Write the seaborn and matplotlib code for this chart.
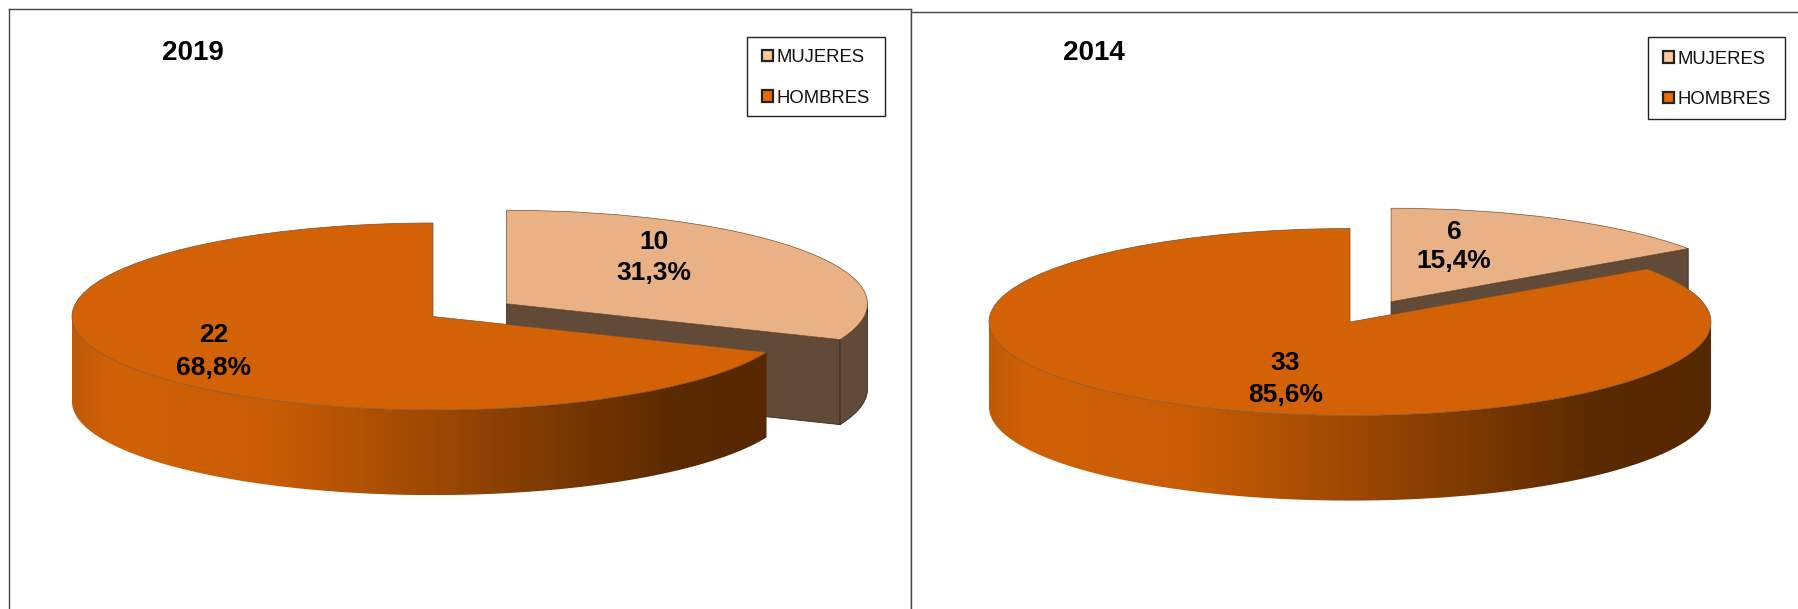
import numpy as np
import matplotlib
matplotlib.use("Agg")
import matplotlib.pyplot as plt
import seaborn as sns
from matplotlib.colors import LinearSegmentedColormap
from matplotlib.patches import Polygon, Rectangle

categories = ["MUJERES", "HOMBRES"]

titles = ["2019", "2014"]
counts_2019 = [10, 22]
counts_2014 = [6, 33]
# percentages as printed on the chart (2014 does not add up, it is like that in the original)
pct_labels_2019 = ["31,3%", "68,8%"]
pct_labels_2014 = ["15,4%", "85,6%"]

W, H = 1798, 609

sns.set_theme(style="white")
plt.rcParams["font.family"] = ["Liberation Sans", "DejaVu Sans"]

top_colors = sns.color_palette(["#E8B186", "#D26205"])
legend_colors = sns.color_palette(["#FFC899", "#E86C00"])
wall_color = "#614A38"
grad = LinearSegmentedColormap.from_list(
    "wall",
    [(0, "#BF5A08"), (0.05, "#D06106"), (0.28, "#C85C05"), (0.84, "#5A2A00"), (1, "#562800")],
)

RX, RY, DEPTH = 361.0, 93.5, 0.91


def px_text(fig, x, y, s, **kw):
    fig.text(x / W, 1 - y / H, s, ha="center", va="center", color="black", **kw)


def wall_poly(cx, cy, a, b):
    t = np.radians(np.linspace(a, b, 200))
    x = cx + np.cos(t)
    y = cy + np.sin(t)
    return np.r_[np.c_[x, y], np.c_[x[::-1], y[::-1] - DEPTH]]


def draw_panel(fig, box, center, counts, pct_labels, title, title_x, label_pos, legend_box, legend_y, spines):
    left, top, right = box
    ax = fig.add_axes([left / W, 0, (right - left) / W, (H - top) / H])

    wedges, _ = ax.pie(
        counts,
        explode=[0.245, 0],
        startangle=90,
        counterclock=False,
        colors=top_colors,
        wedgeprops=dict(linewidth=0.5, edgecolor="#7A5230"),
    )
    muj, hom = wedges
    muj.set_zorder(3)
    hom.set_zorder(6)

    # mujeres: radial cut face and the bit of rim at the front
    cx, cy = muj.center
    tip = muj.theta1
    tx, ty = cx + np.cos(np.radians(tip)), cy + np.sin(np.radians(tip))
    face = [(cx, cy), (tx, ty), (tx, ty - DEPTH), (cx, cy - DEPTH)]
    ax.add_patch(Polygon(face, closed=True, fc=wall_color, ec="#3A2A1C", lw=0.6, zorder=1))
    if tip < 0:
        ax.add_patch(Polygon(wall_poly(cx, cy, tip, 0), closed=True, fc=wall_color, ec="#3A2A1C", lw=0.6, zorder=2))

    # hombres: front wall with horizontal gradient
    cx, cy = hom.center
    end = min(hom.theta2, 0)
    poly = Polygon(wall_poly(cx, cy, -180, end), closed=True, fc="none", ec="none", transform=ax.transData)
    ax.add_patch(poly)
    im = ax.imshow(
        np.linspace(0, 1, 512)[None, :],
        cmap=grad,
        extent=(cx - 1, cx + 1, cy - DEPTH - 1, cy + 1),
        aspect="auto",
        zorder=4,
    )
    im.set_clip_path(poly)

    px, py = center
    ax.set_xlim((left - px) / RX, (right - px) / RX)
    ax.set_ylim((py - H) / RY, (py - top) / RY)
    ax.set_aspect("auto")
    ax.set_xticks([])
    ax.set_yticks([])
    ax.set_frame_on(True)
    for name, sp in ax.spines.items():
        sp.set_visible(name in spines)
        sp.set_color("#444444")
        sp.set_linewidth(1.0)

    px_text(fig, title_x, 53, title, fontsize=20, fontweight="bold")
    for c, p, (x, y1, y2) in zip(counts, pct_labels, label_pos):
        px_text(fig, x, y1, str(c), fontsize=19, fontweight="bold", zorder=10)
        px_text(fig, x, y2, p, fontsize=19, fontweight="bold", zorder=10)

    # legend frame is a plain rectangle, paddings differ per side in the original
    x0, y0, x1, y1 = legend_box
    fig.add_artist(Rectangle(
        (x0 / W, 1 - y1 / H), (x1 - x0) / W, (y1 - y0) / H,
        transform=fig.transFigure, fc="white", ec="#222222", lw=1.0,
    ))
    handles = [Rectangle((0, 0), 1, 1, fc=c, ec="#222222", lw=1.6) for c in legend_colors]
    leg = ax.legend(
        handles,
        categories,
        loc="upper left",
        bbox_to_anchor=((x0 + 15) / W, 1 - legend_y / H),
        bbox_transform=fig.transFigure,
        borderaxespad=0,
        borderpad=0,
        fontsize=13.3,
        handlelength=0.6,
        handleheight=0.6,
        handletextpad=0.16,
        labelspacing=1.28,
        frameon=False,
        labelcolor="#111111",
    )
    leg.remove()
    fig.add_artist(leg)


fig = plt.figure(figsize=(W / 100, H / 100), dpi=100, facecolor="white")

draw_panel(
    fig, (9, 8.5, 911), (433, 316.5), counts_2019, pct_labels_2019, titles[0], 193,
    [(654, 242, 273), (213.5, 335, 368)], (747, 37, 885, 116.5), 49, ["left", "top", "right"],
)
draw_panel(
    fig, (911, 11.5, 1799), (1350, 322), counts_2014, pct_labels_2014, titles[1], 1094,
    [(1454, 232, 261), (1285.5, 363, 395)], (1648, 37, 1785, 119), 50.5, ["left", "top"],
)

fig.savefig("out.png", dpi=100)
